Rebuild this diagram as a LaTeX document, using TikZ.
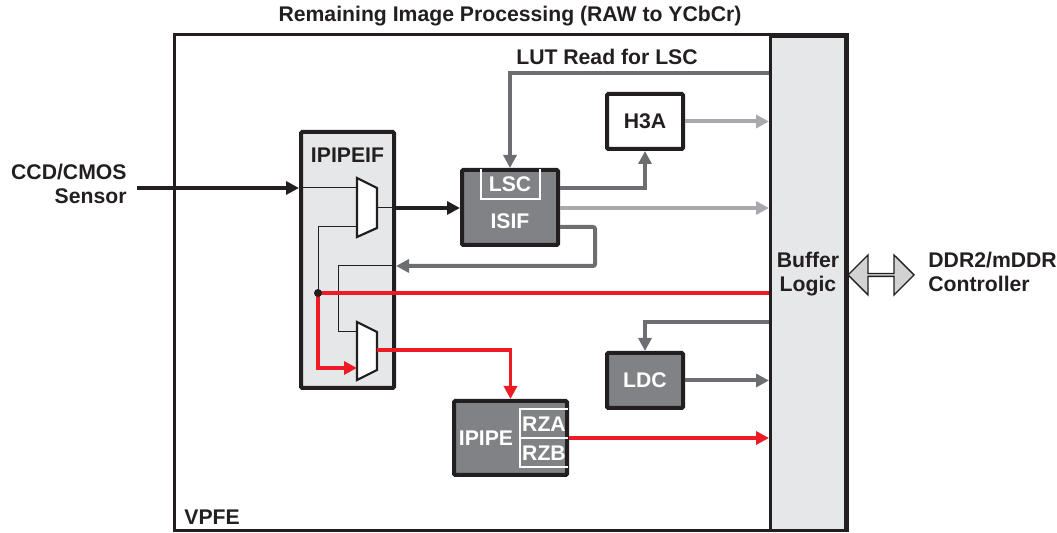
\documentclass[tikz,border=0pt]{standalone}
\usepackage{fontspec}
\setmainfont{Liberation Sans}
\usetikzlibrary{arrows.meta,shapes.arrows}
\definecolor{inkblack}{RGB}{35, 31, 32}
\definecolor{boxgray}{RGB}{128, 130, 133}
\definecolor{wiregray}{RGB}{109, 110, 113}
\definecolor{palegray}{RGB}{167, 169, 172}
\definecolor{panelgray}{RGB}{230, 231, 232}
\definecolor{sigred}{RGB}{237, 28, 36}

\begin{document}
\begin{tikzpicture}[x=0.5pt, y=-0.5pt,
  lbl/.style={font=\fontsize{10.6}{12}\selectfont\bfseries, text=inkblack, inner sep=0pt},
  wlbl/.style={lbl, text=white},
  blk/.style={draw=inkblack, line width=2pt, fill=boxgray, inner sep=0pt, rounded corners=0.6pt},
  tip/.style={-{Triangle[length=6.5pt, width=6.5pt]}},
  wire/.style={line width=0.5pt, inkblack},
  gwire/.style={line width=2pt, wiregray, tip},
  pwire/.style={line width=2pt, palegray, tip},
  rwire/.style={line width=1.8pt, sigred}]

  \useasboundingbox (0,0) rectangle (1057,533);

  % ── Title and frame ─────────────────────────────────────────────────
  \node[lbl] (title) at (510,16) {Remaining Image Processing (RAW to YCbCr)};
  \draw[line width=1.5pt, inkblack] (174,35) rectangle (847,531);
  \node[lbl, anchor=base west] (vpfe) at (184,525) {VPFE};

  % ── Buffer logic and DDR controller ─────────────────────────────────
  \node[draw=inkblack, line width=1.5pt, fill=panelgray, inner sep=0pt,
    minimum width=37.5pt, minimum height=247pt] (buffer) at (808,283.5) {};
  \node[lbl, align=center] (buflbl) at (808,274) {Buffer\\Logic};
  \node[double arrow, draw=inkblack, line width=0.7pt, fill=gray!35,
    inner sep=0pt, minimum height=33pt, minimum width=20pt,
    double arrow head extend=4.5pt, double arrow head indent=0pt] (ddr) at (881,275) {};
  \node[lbl, align=left, anchor=west] (ddrlbl) at (928,272) {DDR2/mDDR\\Controller};

  % ── Blocks ──────────────────────────────────────────────────────────
  \node[blk, fill=panelgray, minimum width=46.5pt, minimum height=128pt] (ipipeif) at (347.5,260) {};
  \node[lbl] (ipipeiflbl) at (347.5,155) {IPIPEIF};
  \node[blk, minimum width=48pt, minimum height=37.5pt] (isif) at (510,207.5) {};
  \node[blk, fill=white, minimum width=38pt, minimum height=27.5pt] (h3a) at (645,121.5) {};
  \node[lbl] (h3albl) at (h3a) {H3A};
  \node[blk, minimum width=38pt, minimum height=27.5pt] (ldc) at (645,380.5) {};
  \node[wlbl] (ldclbl) at (ldc) {LDC};
  \node[blk, minimum width=56.5pt, minimum height=37pt] (ipipe) at (510.5,438) {};

  % ISIF with LSC inset
  \draw[white, line width=1pt] (481,169) -- (481,199) -- (540,199) -- (540,169);
  \node[wlbl] (lsclbl) at (510,184) {LSC};
  \node[wlbl] (isiflbl) at (510,221) {ISIF};

  % IPIPE with resizers
  \draw[white, line width=1pt] (568,409) -- (520,409) -- (520,467) -- (568,467);
  \draw[white, line width=1pt] (520,438) -- (568,438);
  \node[wlbl] (ipipelbl) at (486,438) {IPIPE};
  \node[wlbl] (rzalbl) at (544,424) {RZA};
  \node[wlbl] (rzblbl) at (544,453) {RZB};

  % ── Muxes inside IPIPEIF ────────────────────────────────────────────
  \filldraw[fill=white, draw=inkblack, line width=1.1pt]
    (357,178) -- (377,188) -- (377,228) -- (357,237) -- cycle;
  \filldraw[fill=white, draw=inkblack, line width=1.1pt]
    (357,322) -- (377,332) -- (377,370) -- (357,380) -- cycle;
  \coordinate (m1in)  at (357,188);
  \coordinate (m1sel) at (357,227);
  \coordinate (m1out) at (377,208);
  \coordinate (m2in)  at (357,332);
  \coordinate (m2red) at (357,368);
  \coordinate (m2out) at (377,350);
  \coordinate (tap)   at (318,293);
  \coordinate (ret)   at (396,266);
  \coordinate (src)   at (137,188);

  % ── Sensor path ─────────────────────────────────────────────────────
  \node[lbl, align=right, anchor=east] (sensor) at (127,184) {CCD/CMOS\\Sensor};
  \draw[line width=2.4pt, inkblack, tip] (src) -- (ipipeif.west |- m1in);
  \draw[wire] (ipipeif.west |- m1in) -- (m1in);
  \draw[wire] (m1out) -- (ipipeif.east |- m1out);
  \draw[line width=2.4pt, inkblack, tip] (ipipeif.east |- m1out) -- (isif.west |- m1out);
  \draw[wire] (m1sel) -| (tap);
  \draw[wire] (m2in) -- (338,332) |- (ret);

  % ── Gray paths ──────────────────────────────────────────────────────
  \draw[gwire] (buffer.west |- 0,73) -| (isif.north);
  \node[lbl] (lutlbl) at (607,57) {LUT Read for LSC};
  \draw[gwire] (isif.east |- 0,188) -| (h3a.south);
  \draw[pwire] (h3a.east) -- (buffer.west |- h3a.east);
  \draw[pwire] (isif.east |- 0,208) -- (buffer.west |- 0,208);
  \draw[gwire, rounded corners=1pt] (isif.east |- 0,227) -| (595,266) -- (ret);
  \draw[gwire] (buffer.west |- 0,322) -| (ldc.north);
  \draw[gwire] (ldc.east) -- (buffer.west |- ldc.east);

  % ── Red path ────────────────────────────────────────────────────────
  \draw[rwire] (tap) -- (buffer.west |- tap);
  \draw[rwire, tip] (tap) |- (m2red);
  \draw[wire] (m2out) -- (ipipeif.east |- m2out);
  \draw[rwire, tip] (m2out) -| (ipipe.north);
  \draw[rwire, tip] (ipipe.east) -- (buffer.west |- ipipe.east);
  \fill[inkblack] (tap) circle (2pt);

\end{tikzpicture}
\end{document}
